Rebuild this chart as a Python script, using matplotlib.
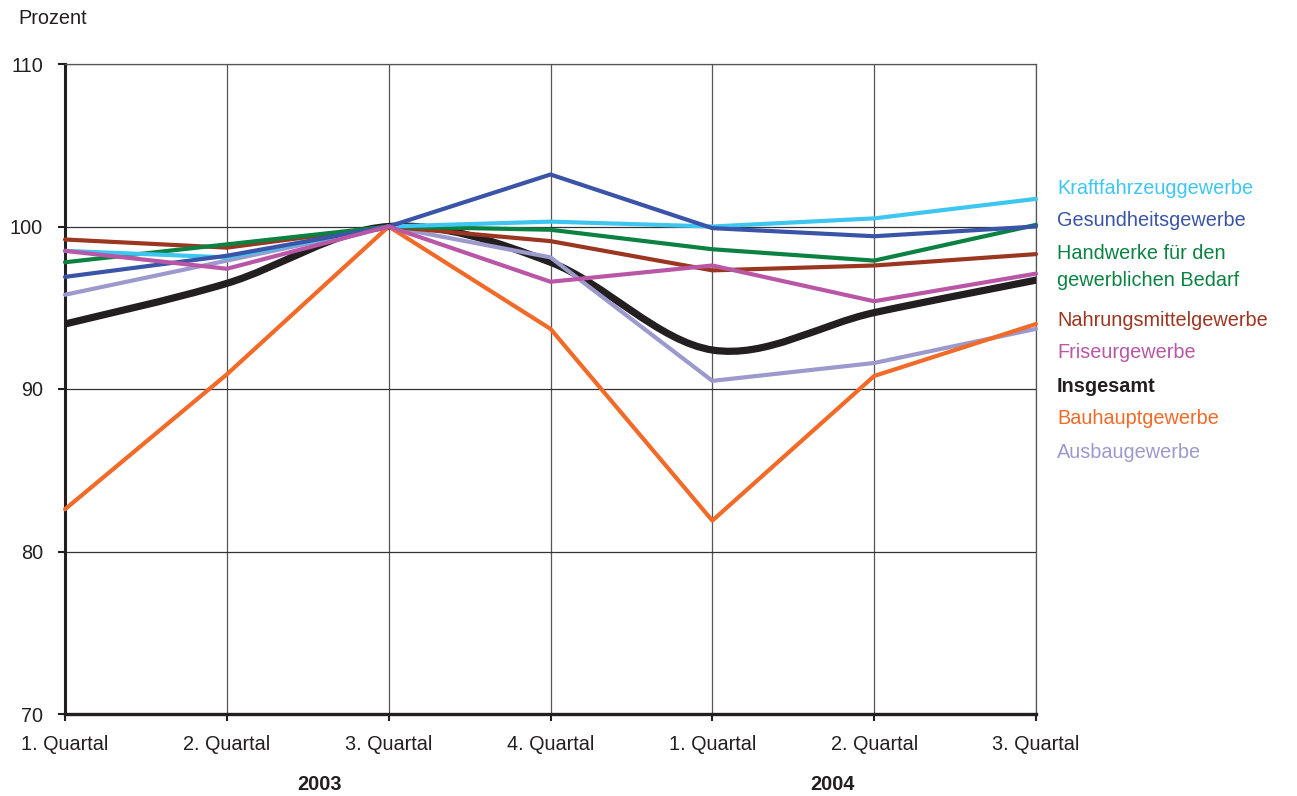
import numpy as np
import matplotlib
matplotlib.use('Agg')
import matplotlib.pyplot as plt
from matplotlib.path import Path
from matplotlib.patches import PathPatch
from matplotlib.transforms import blended_transform_factory

plt.rcParams['font.family'] = ['Liberation Sans', 'DejaVu Sans']

# ================= Daten =================
quartale = ['1. Quartal', '2. Quartal', '3. Quartal', '4. Quartal',
            '1. Quartal', '2. Quartal', '3. Quartal']
jahre = ['2003', '2004']

kraftfahrzeug = [98.5, 98.1, 100.0, 100.3, 100.0, 100.5, 101.7]
gesundheit = [96.9, 98.2, 100.0, 103.2, 99.9, 99.4, 100.0]
handwerke_bedarf = [97.8, 98.9, 100.0, 99.8, 98.6, 97.9, 100.1]
nahrungsmittel = [99.2, 98.7, 100.0, 99.1, 97.3, 97.6, 98.3]
friseur = [98.5, 97.4, 100.0, 96.6, 97.6, 95.4, 97.1]
insgesamt = [94.0, 96.5, 100.0, 97.8, 92.4, 94.7, 96.7]
bauhaupt = [82.6, 90.9, 100.0, 93.7, 81.9, 90.8, 94.0]
ausbau = [95.8, 97.9, 100.0, 98.1, 90.5, 91.6, 93.7]

FS = 14.3

# (Label, Werte, Farbe)
SERIEN = [
    ('Ausbaugewerbe', ausbau, '#9c99cd'),
    ('Bauhauptgewerbe', bauhaupt, '#f26a28'),
    ('Nahrungsmittelgewerbe', nahrungsmittel, '#9b3621'),
    ('Handwerke für den\ngewerblichen Bedarf', handwerke_bedarf, '#0b8242'),
    ('Kraftfahrzeuggewerbe', kraftfahrzeug, '#3ec6f0'),
    ('Gesundheitsgewerbe', gesundheit, '#3a54a7'),
    ('Friseurgewerbe', friseur, '#b957a6'),
]

LEGENDE = [
    ('Kraftfahrzeuggewerbe', '#3ec6f0', 188, 'normal'),
    ('Gesundheitsgewerbe', '#3a54a7', 221, 'normal'),
    ('Handwerke für den\ngewerblichen Bedarf', '#0b8242', 267, 'normal'),
    ('Nahrungsmittelgewerbe', '#9b3621', 320, 'normal'),
    ('Friseurgewerbe', '#b957a6', 353, 'normal'),
    ('Insgesamt', '#231f20', 386, 'bold'),
    ('Bauhauptgewerbe', '#f26a28', 419, 'normal'),
    ('Ausbaugewerbe', '#9c99cd', 453, 'normal'),
]


def smooth_path(xs, ys):
    # geglaettete Linie wie in Excel (Bezier durch alle Punkte)
    pts = np.column_stack([xs, ys]).astype(float)
    n = len(pts)
    verts = [pts[0]]
    codes = [Path.MOVETO]
    for i in range(n - 1):
        p0 = pts[i - 1] if i > 0 else pts[i]
        p1 = pts[i]
        p2 = pts[i + 1]
        p3 = pts[i + 2] if i + 2 < n else pts[i + 1]
        c1 = p1 + (p2 - p0) / 6.0
        c2 = p2 - (p3 - p1) / 6.0
        verts += [c1, c2, p2]
        codes += [Path.CURVE4] * 3
    return Path(verts, codes)


W, H = 1297, 796
fig = plt.figure(figsize=(W / 100, H / 100), dpi=100)
ax = fig.add_axes([65 / W, 1 - 714 / H, (1036 - 65) / W, (714 - 64) / H])

x = np.arange(len(quartale))

# Insgesamt (dick, geglaettet) zuerst
patch = PathPatch(smooth_path(x, insgesamt), facecolor='none', edgecolor='#231f20',
                  lw=5.2, capstyle='round', joinstyle='round', zorder=3)
ax.add_patch(patch)

for label, werte, farbe in SERIEN:
    ax.plot(x, werte, color=farbe, lw=3.0, solid_capstyle='round', solid_joinstyle='round',
            zorder=4, clip_on=False)

ax.set_xlim(0, 6)
ax.set_ylim(70, 110)
ax.set_yticks([70, 80, 90, 100, 110])
ax.set_xticks(x)
ax.set_xticklabels(quartale)

ax.grid(True, axis='x', color='#555555', lw=0.9)
ax.grid(True, axis='y', color='#333333', lw=0.9)
ax.set_axisbelow(True)

for s in ['top', 'right']:
    ax.spines[s].set_color('#555555')
    ax.spines[s].set_linewidth(0.9)
ax.spines['left'].set_linewidth(2.2)
ax.spines['bottom'].set_linewidth(2.4)
ax.spines['left'].set_color('#231f20')
ax.spines['bottom'].set_color('#231f20')

ax.tick_params(axis='y', direction='out', length=5, width=1.5, pad=11, labelsize=FS,
               colors='#231f20')
ax.tick_params(axis='x', direction='out', length=5, width=1.5, pad=10, labelsize=FS,
               colors='#231f20')

fig.text(18 / W, 1 - 19 / H, 'Prozent', fontsize=FS, color='#231f20', va='center', ha='left')

# Jahresbeschriftung
tr = blended_transform_factory(ax.transData, fig.transFigure)
ax.text(1.57, 1 - 784 / H, jahre[0], transform=tr, ha='center', va='center',
        fontsize=FS, fontweight='bold', color='#231f20')
ax.text(4.74, 1 - 784 / H, jahre[1], transform=tr, ha='center', va='center',
        fontsize=FS, fontweight='bold', color='#231f20')

# Beschriftung rechts
for text, farbe, ypix, gewicht in LEGENDE:
    fig.text(1057 / W, 1 - ypix / H, text, color=farbe, fontsize=FS, fontweight=gewicht,
             ha='left', va='center', linespacing=1.5)

fig.savefig('out.png', dpi=100)
